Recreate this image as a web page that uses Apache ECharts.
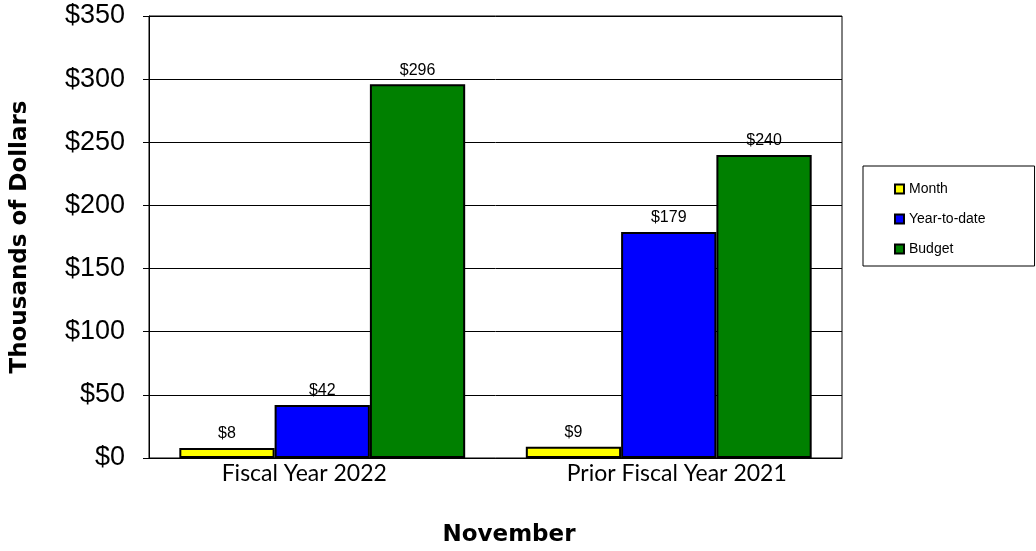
<!DOCTYPE html>
<html><head><meta charset="utf-8">
<script src="https://cdn.jsdelivr.net/npm/echarts@6/dist/echarts.min.js"></script>
<style>html,body{margin:0;padding:0;background:#fff}#c{width:1036px;height:551px}</style>
</head><body><div id="c"></div>
<script>
const categories = ['Fiscal Year 2022', 'Prior Fiscal Year 2021'];
const seriesNames = ['Month', 'Year-to-date', 'Budget'];
const monthValues = [8, 9];
const ytdValues = [42, 179];
const budgetValues = [296, 240];
const colors = ['#ffff00', '#0000ff', '#008000'];

const chart = echarts.init(document.getElementById('c'));
const all = [monthValues, ytdValues, budgetValues];
const sans = 'Liberation Sans, Arial, sans-serif';
const labelFont = { fontSize: 23, color: '#000', fontFamily: 'Lato, Open Sans, sans-serif' };
chart.setOption({
  animation: false,
  textStyle: { fontFamily: sans, color: '#000' },
  grid: { left: 149, right: 194, top: 16, bottom: 93, show: true, borderColor: '#000', borderWidth: 1, containLabel: false, outerBoundsMode: 'none' },
  legend: {
    orient: 'vertical', left: 863, top: 166,
    borderColor: '#000', borderWidth: 1,
    padding: [16, 49, 10, 31],
    itemGap: 16, itemWidth: 9, itemHeight: 9, icon: 'rect',
    textStyle: { fontSize: 14, color: '#000', fontFamily: sans },
    data: seriesNames
  },
  xAxis: {
    type: 'category', data: categories,
    axisLine: { lineStyle: { color: '#000', width: 1 } },
    axisTick: { show: false },
    axisLabel: {
      ...labelFont, margin: 4,
      formatter: (v, i) => '{c' + i + '|' + v + '}',
      rich: {
        c0: { ...labelFont, padding: [0, 36, 0, 0] },
        c1: { ...labelFont, padding: [0, 0, 0, 16] }
      }
    },
    name: 'November', nameLocation: 'middle', nameGap: 66,
    nameTextStyle: { fontSize: 23, fontWeight: 'bold', color: '#000', fontFamily: 'DejaVu Sans, sans-serif', padding: [0,0,0,27] }
  },
  yAxis: {
    type: 'value', min: 0, max: 350, interval: 50,
    axisLine: { show: true, lineStyle: { color: '#000' } },
    axisTick: { show: true, length: 6, lineStyle: { color: '#000' } },
    splitLine: { lineStyle: { color: '#000', width: 1 } },
    axisLabel: { fontSize: 27, color: '#000', margin: 24, fontFamily: sans, formatter: v => '$' + v },
    name: 'Thousands of Dollars', nameLocation: 'middle', nameGap: 117,
    nameTextStyle: { fontSize: 23, fontWeight: 'bold', color: '#000', fontFamily: 'DejaVu Sans, sans-serif' }
  },
  series: seriesNames.map((n, i) => ({
    name: n, type: 'bar', data: all[i],
    barGap: '0%', barCategoryGap: '17.5%',
    itemStyle: { color: colors[i], borderColor: '#000', borderWidth: 2 },
    label: { show: true, position: 'top', distance: 6, fontSize: 16, color: '#000', fontFamily: sans, formatter: p => '$' + p.value }
  }))
});
</script></body></html>
